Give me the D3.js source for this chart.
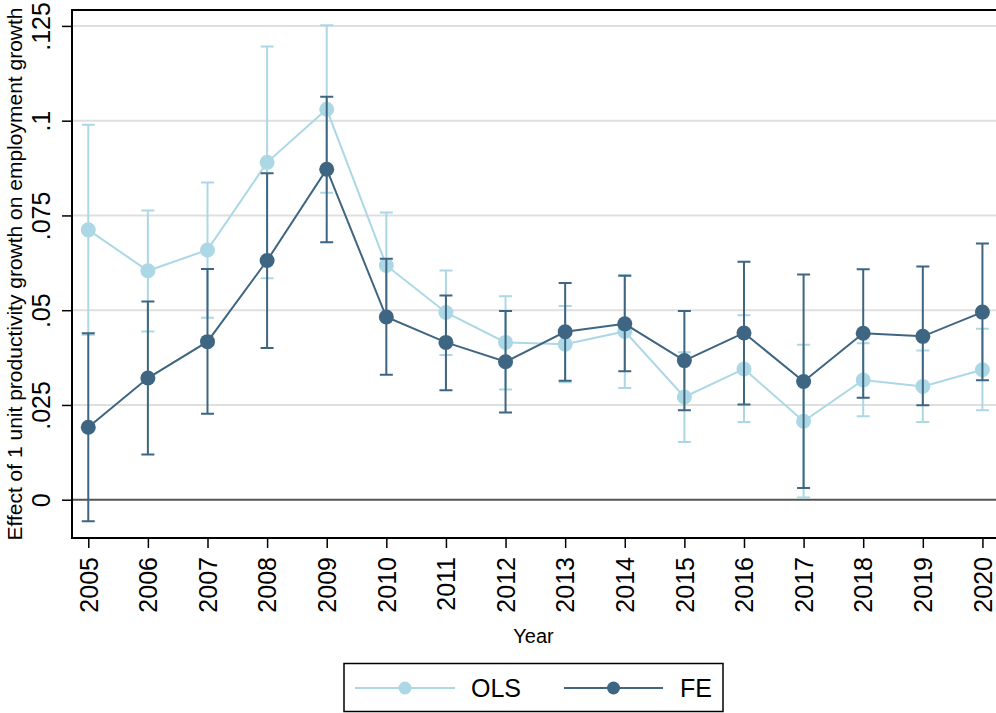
<!DOCTYPE html>
<html>
<head>
<meta charset="utf-8">
<script src="https://cdn.jsdelivr.net/npm/d3@7"></script>
<style>
  html, body { margin: 0; padding: 0; background: #fff; }
  svg { display: block; font-family: "Liberation Sans", Arial, Helvetica, sans-serif; }
</style>
</head>
<body>
<svg id="chart" width="996" height="713"></svg>
<script>
// Yearly coefficients with 95% confidence bounds
const years = [2005, 2006, 2007, 2008, 2009, 2010, 2011, 2012, 2013, 2014, 2015, 2016, 2017, 2018, 2019, 2020];

const olsEst   = [0.0712, 0.0604, 0.0659, 0.0890, 0.1030, 0.0618, 0.0494, 0.0415, 0.0410, 0.0444, 0.0271, 0.0345, 0.0207, 0.0316, 0.0299, 0.0343];
const olsLow   = [0.0435, 0.0444, 0.0480, 0.0584, 0.0810, 0.0478, 0.0382, 0.0291, 0.0310, 0.0295, 0.0152, 0.0205, 0.0006, 0.0220, 0.0205, 0.0236];
const olsHigh  = [0.0989, 0.0763, 0.0837, 0.1196, 0.1252, 0.0758, 0.0605, 0.0537, 0.0511, 0.0593, 0.0389, 0.0487, 0.0409, 0.0413, 0.0394, 0.0451];

const feEst    = [0.0191, 0.0321, 0.0417, 0.0631, 0.0872, 0.0482, 0.0415, 0.0364, 0.0443, 0.0464, 0.0367, 0.0440, 0.0312, 0.0439, 0.0431, 0.0495];
const feLow    = [-0.0057, 0.0119, 0.0227, 0.0400, 0.0679, 0.0330, 0.0289, 0.0230, 0.0314, 0.0339, 0.0236, 0.0251, 0.0031, 0.0269, 0.0249, 0.0315];
const feHigh   = [0.0439, 0.0523, 0.0609, 0.0861, 0.1063, 0.0636, 0.0539, 0.0498, 0.0572, 0.0591, 0.0498, 0.0628, 0.0594, 0.0608, 0.0615, 0.0676];

const yTicks = [0, 0.025, 0.05, 0.075, 0.1, 0.125];
const yTickLabels = ["0", ".025", ".05", ".075", ".1", ".125"];

const seriesNames = ["OLS", "FE"];
const seriesColors = ["#acd8e5", "#3e6581"];

const svg = d3.select("#chart");

const plot = { left: 72, right: 998.7, top: 10, bottom: 538 };

const x = d3.scaleLinear().domain([2004.727, 2020.273]).range([plot.left, plot.right]);
const y = d3.scaleLinear().domain([-0.0101, 0.1292]).range([plot.bottom, plot.top]);

// Horizontal grid lines
svg.append("g")
  .selectAll("line")
  .data(yTicks.filter(d => d !== 0))
  .join("line")
  .attr("x1", plot.left).attr("x2", plot.right)
  .attr("y1", d => y(d)).attr("y2", d => y(d))
  .attr("stroke", "#dfdfdf").attr("stroke-width", 2);

// Zero reference line
svg.append("line")
  .attr("x1", plot.left).attr("x2", plot.right)
  .attr("y1", y(0)).attr("y2", y(0))
  .attr("stroke", "#555").attr("stroke-width", 2);

// Y axis
const yAxis = svg.append("g")
  .attr("transform", `translate(${plot.left},0)`)
  .call(d3.axisLeft(y).tickValues(yTicks).tickSize(10).tickFormat((d, i) => yTickLabels[i]));
yAxis.select(".domain").remove();
yAxis.selectAll(".tick line").attr("stroke", "#000").attr("stroke-width", 1.5);
yAxis.selectAll(".tick text")
  .attr("x", null).attr("dy", null)
  .attr("transform", "translate(-22,0) rotate(-90)")
  .attr("text-anchor", "middle")
  .attr("font-size", 25)
  .attr("fill", "#000");

// X axis
const xAxis = svg.append("g")
  .attr("transform", `translate(0,${plot.bottom})`)
  .call(d3.axisBottom(x).tickValues(years).tickSize(10).tickFormat(d3.format("d")));
xAxis.select(".domain").remove();
xAxis.selectAll(".tick line").attr("stroke", "#000").attr("stroke-width", 1.5);
xAxis.selectAll(".tick text")
  .attr("y", null).attr("dy", null)
  .attr("transform", "translate(0,19) rotate(-90)")
  .attr("text-anchor", "end")
  .attr("dy", "0.35em")
  .attr("font-size", 25)
  .attr("fill", "#000");

// Plot frame (left, top, bottom)
svg.append("path")
  .attr("d", `M${plot.right},${plot.top}H${plot.left}V${plot.bottom}H${plot.right}`)
  .attr("fill", "none").attr("stroke", "#000").attr("stroke-width", 2);

// Axis titles
svg.append("text")
  .attr("transform", `translate(22,${(plot.top + plot.bottom) / 2}) rotate(-90)`)
  .attr("text-anchor", "middle")
  .attr("font-size", 21)
  .text("Effect of 1 unit productivity growth on employment growth");

svg.append("text")
  .attr("x", 533.5).attr("y", 643)
  .attr("text-anchor", "middle")
  .attr("font-size", 20)
  .text("Year");

// Series: confidence caps, then connected estimates
const series = [
  { est: olsEst, low: olsLow, high: olsHigh, color: seriesColors[0] },
  { est: feEst, low: feLow, high: feHigh, color: seriesColors[1] }
];

const capHalf = 6.5;
series.forEach(s => {
  const rows = years.map((yr, i) => ({ yr, est: s.est[i], low: s.low[i], high: s.high[i] }));
  const g = svg.append("g");

  const caps = g.append("g").attr("stroke", s.color).attr("stroke-width", 2).attr("fill", "none");
  caps.selectAll("path")
    .data(rows)
    .join("path")
    .attr("d", d => {
      const cx = x(d.yr), yl = y(d.low), yh = y(d.high);
      return `M${cx - capHalf},${yh}H${cx + capHalf}M${cx},${yh}V${yl}M${cx - capHalf},${yl}H${cx + capHalf}`;
    });

  g.append("path")
    .datum(rows)
    .attr("fill", "none")
    .attr("stroke", s.color)
    .attr("stroke-width", 2)
    .attr("d", d3.line().x(d => x(d.yr)).y(d => y(d.est)));

  g.append("g").selectAll("circle")
    .data(rows)
    .join("circle")
    .attr("cx", d => x(d.yr))
    .attr("cy", d => y(d.est))
    .attr("r", 7.5)
    .attr("fill", s.color);
});

// Legend
const legend = svg.append("g");
legend.append("rect")
  .attr("x", 344).attr("y", 663.5).attr("width", 379).attr("height", 48)
  .attr("fill", "#fff").attr("stroke", "#000").attr("stroke-width", 1.5);

const legendItems = [
  { name: seriesNames[0], color: seriesColors[0], x0: 355, x1: 455, tx: 471 },
  { name: seriesNames[1], color: seriesColors[1], x0: 564, x1: 663, tx: 680 }
];
legendItems.forEach(it => {
  legend.append("line")
    .attr("x1", it.x0).attr("x2", it.x1).attr("y1", 688).attr("y2", 688)
    .attr("stroke", it.color).attr("stroke-width", 2);
  legend.append("circle")
    .attr("cx", (it.x0 + it.x1) / 2).attr("cy", 688).attr("r", 6.5)
    .attr("fill", it.color);
  legend.append("text")
    .attr("x", it.tx).attr("y", 697)
    .attr("font-size", 25)
    .text(it.name);
});
</script>
</body>
</html>
